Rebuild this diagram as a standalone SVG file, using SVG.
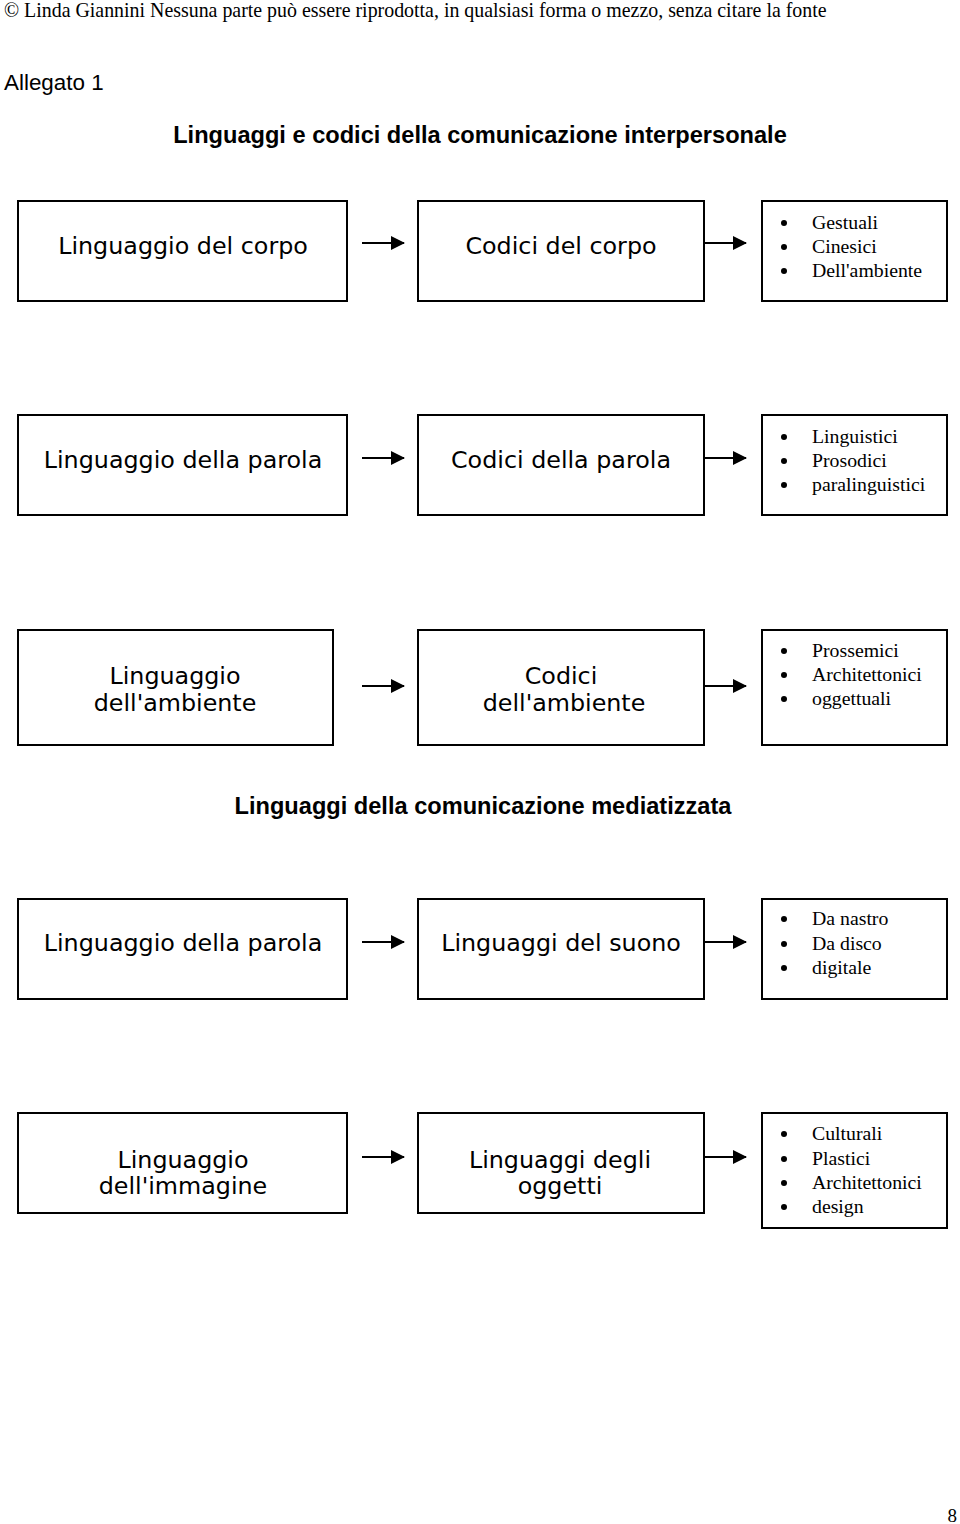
<svg xmlns="http://www.w3.org/2000/svg" width="960" height="1524" viewBox="0 0 960 1524">
<style>
.box{fill:#fff;stroke:#000;stroke-width:2}
.bt{font-family:"DejaVu Sans",Verdana,sans-serif;font-size:23.8px;fill:#000;text-anchor:middle}
.li{font-family:"Liberation Serif","Times New Roman",serif;font-size:19.8px;fill:#000}
.hd{font-family:"Liberation Sans",Arial,sans-serif;font-size:22.4px;fill:#000}
.h2{font-family:"Liberation Sans",Arial,sans-serif;font-size:23.6px;font-weight:bold;fill:#000;text-anchor:middle}
.cn line{stroke:#000;stroke-width:2}
</style>
<defs>
<marker id="ah" viewBox="0 0 14 14" refX="13" refY="7" markerWidth="14" markerHeight="14" markerUnits="userSpaceOnUse" orient="auto">
<path d="M0,0 L14,7 L0,14 Z" fill="#000"/>
</marker>
<circle id="dot" r="3" fill="#000"/>
</defs>
<rect width="960" height="1524" fill="#fff"/>
<text x="4" y="17" style="font-family:'Liberation Serif',serif;font-size:19.9px">© Linda Giannini Nessuna parte può essere riprodotta, in qualsiasi forma o mezzo, senza citare la fonte</text>
<text x="4" y="90" class="hd">Allegato 1</text>
<text x="480" y="143" class="h2">Linguaggi e codici della comunicazione interpersonale</text>
<text x="483" y="814" class="h2">Linguaggi della comunicazione mediatizzata</text>
<text x="957" y="1522" text-anchor="end" style="font-family:'Liberation Serif',serif;font-size:19px">8</text>

<g class="cn">
<line x1="362" y1="243" x2="404" y2="243" marker-end="url(#ah)"/>
<line x1="704" y1="243" x2="746" y2="243" marker-end="url(#ah)"/>
<line x1="362" y1="458" x2="404" y2="458" marker-end="url(#ah)"/>
<line x1="704" y1="458" x2="746" y2="458" marker-end="url(#ah)"/>
<line x1="362" y1="686" x2="404" y2="686" marker-end="url(#ah)"/>
<line x1="704" y1="686" x2="746" y2="686" marker-end="url(#ah)"/>
<line x1="362" y1="942" x2="404" y2="942" marker-end="url(#ah)"/>
<line x1="704" y1="942" x2="746" y2="942" marker-end="url(#ah)"/>
<line x1="362" y1="1157" x2="404" y2="1157" marker-end="url(#ah)"/>
<line x1="704" y1="1157" x2="746" y2="1157" marker-end="url(#ah)"/>
</g>

<g id="n1a"><rect class="box" x="18" y="201" width="329" height="100"/><text class="bt" x="183" y="254">Linguaggio del corpo</text></g>
<g id="n1b"><rect class="box" x="418" y="201" width="286" height="100"/><text class="bt" x="561" y="254">Codici del corpo</text></g>
<g id="n1c"><rect class="box" x="762" y="201" width="185" height="100"/>
<use href="#dot" x="784" y="223"/><use href="#dot" x="784" y="247"/><use href="#dot" x="784" y="271"/>
<text class="li" x="812" y="229">Gestuali</text><text class="li" x="812" y="253">Cinesici</text><text class="li" x="812" y="277">Dell'ambiente</text></g>

<g id="n2a"><rect class="box" x="18" y="415" width="329" height="100"/><text class="bt" x="183" y="468">Linguaggio della parola</text></g>
<g id="n2b"><rect class="box" x="418" y="415" width="286" height="100"/><text class="bt" x="561" y="468">Codici della parola</text></g>
<g id="n2c"><rect class="box" x="762" y="415" width="185" height="100"/>
<use href="#dot" x="784" y="437"/><use href="#dot" x="784" y="461"/><use href="#dot" x="784" y="485"/>
<text class="li" x="812" y="443">Linguistici</text><text class="li" x="812" y="467">Prosodici</text><text class="li" x="812" y="491">paralinguistici</text></g>

<g id="n3a"><rect class="box" x="18" y="630" width="315" height="115"/><text class="bt" x="175" y="684">Linguaggio</text><text class="bt" x="175" y="711">dell'ambiente</text></g>
<g id="n3b"><rect class="box" x="418" y="630" width="286" height="115"/><text class="bt" x="561" y="684">Codici</text><text class="bt" x="564" y="711">dell'ambiente</text></g>
<g id="n3c"><rect class="box" x="762" y="630" width="185" height="115"/>
<use href="#dot" x="784" y="651"/><use href="#dot" x="784" y="675"/><use href="#dot" x="784" y="699"/>
<text class="li" x="812" y="657">Prossemici</text><text class="li" x="812" y="681">Architettonici</text><text class="li" x="812" y="705">oggettuali</text></g>

<g id="n4a"><rect class="box" x="18" y="899" width="329" height="100"/><text class="bt" x="183" y="951">Linguaggio della parola</text></g>
<g id="n4b"><rect class="box" x="418" y="899" width="286" height="100"/><text class="bt" x="561" y="951">Linguaggi del suono</text></g>
<g id="n4c"><rect class="box" x="762" y="899" width="185" height="100"/>
<use href="#dot" x="784" y="919"/><use href="#dot" x="784" y="944"/><use href="#dot" x="784" y="968"/>
<text class="li" x="812" y="925">Da nastro</text><text class="li" x="812" y="950">Da disco</text><text class="li" x="812" y="974">digitale</text></g>

<g id="n5a"><rect class="box" x="18" y="1113" width="329" height="100"/><text class="bt" x="183" y="1168">Linguaggio</text><text class="bt" x="183" y="1194">dell'immagine</text></g>
<g id="n5b"><rect class="box" x="418" y="1113" width="286" height="100"/><text class="bt" x="560" y="1168">Linguaggi degli</text><text class="bt" x="560" y="1194">oggetti</text></g>
<g id="n5c"><rect class="box" x="762" y="1113" width="185" height="115"/>
<use href="#dot" x="784" y="1134"/><use href="#dot" x="784" y="1159"/><use href="#dot" x="784" y="1183"/><use href="#dot" x="784" y="1207"/>
<text class="li" x="812" y="1140">Culturali</text><text class="li" x="812" y="1165">Plastici</text><text class="li" x="812" y="1189">Architettonici</text><text class="li" x="812" y="1213">design</text></g>
</svg>
